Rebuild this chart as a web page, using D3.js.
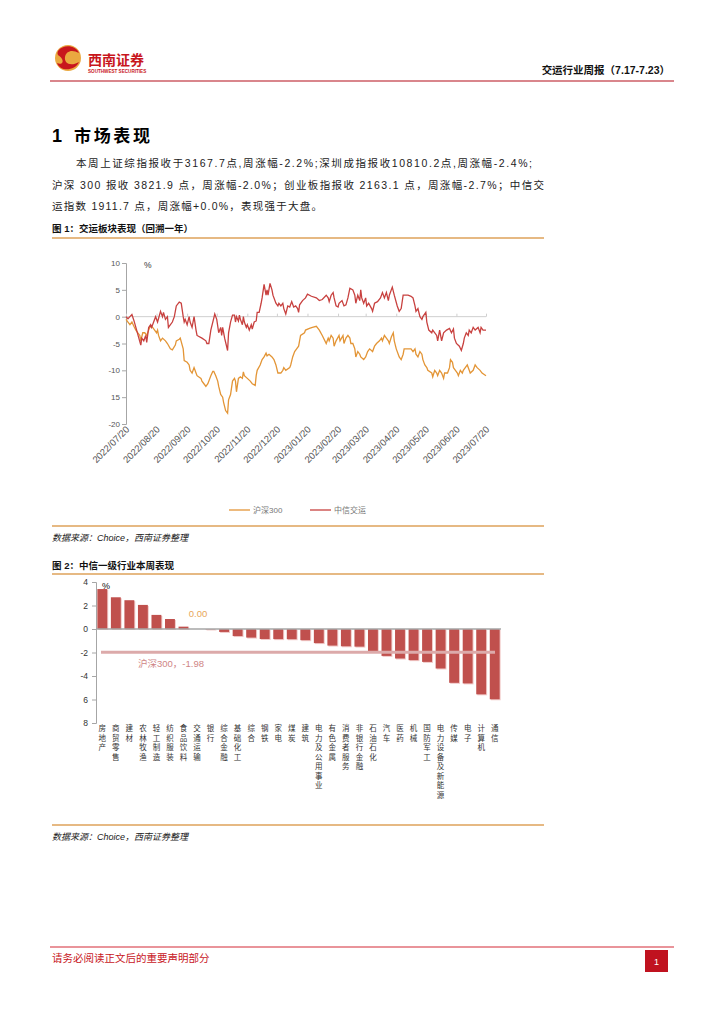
<!DOCTYPE html>
<html><head><meta charset="utf-8">
<script src="https://cdn.jsdelivr.net/npm/d3@7/dist/d3.min.js"></script>
<style>
body{margin:0;background:#fff}
svg{display:block}
text{font-family:"Liberation Sans","Noto Sans CJK SC",sans-serif}
</style></head><body>
<svg id="page" width="724" height="1024"></svg>
<script>
// ---- figure 1 data: [days after 2022/07/20, cumulative %] ----
var hs300 = [[0,-0.5],[2,-1],[4,-1.5],[6,-1],[8,-1.8],[10,-2.5],[12,-3],[14,-3.5],[15,-4.5],[17,-3],[19,-3],[21,-3.5],[24,-2],[26,-1.8],[27,-2],[29,-2.5],[31,-3],[32,-2.5],[33,-3.5],[35,-4.5],[37,-4],[40,-4.5],[42,-5],[45,-6],[47,-6.2],[50,-5.3],[51,-4.5],[54,-4.2],[55,-4],[58,-6],[59,-8.2],[62,-8.5],[64,-9],[65,-10],[67,-10.5],[69,-9.5],[71,-10.5],[72,-11],[76,-11.5],[77,-12],[79,-12.5],[81,-13],[83,-12.5],[86,-11],[88,-10.2],[89,-10.2],[91,-11],[93,-12],[94,-13],[96,-14.5],[98,-15],[99,-16],[101,-17.5],[103,-18],[104,-15.5],[106,-14.5],[108,-12],[110,-11.5],[111,-12],[112,-14],[114,-11.5],[116,-11.2],[118,-11.5],[119,-10.3],[120,-11],[123,-11.5],[126,-12],[128,-12.5],[131,-12.8],[132,-11],[133,-10],[136,-9],[138,-8],[140,-7.5],[142,-6.8],[143,-7.3],[145,-7],[148,-7.5],[150,-8],[152,-9],[154,-10.5],[157,-10.5],[159,-10],[160,-9.5],[162,-10],[166,-9.5],[167,-9],[169,-7.5],[171,-6.5],[173,-6],[175,-5.5],[177,-3.5],[181,-3],[182,-2.5],[186,-2.2],[189,-2],[193,-1.8],[196,-2.5],[199,-3.5],[203,-5],[205,-4],[206,-4.5],[208,-3.5],[210,-4],[211,-5.5],[213,-4.5],[216,-3.5],[217,-4.5],[220,-3.5],[221,-5],[223,-4],[225,-3.5],[227,-4],[228,-5],[230,-5],[232,-6],[233,-7.5],[235,-6.5],[237,-7],[238,-7.5],[241,-8],[243,-7.5],[245,-6.5],[247,-6],[250,-6.5],[252,-5.5],[254,-5],[257,-4.5],[259,-4],[260,-4.5],[262,-3.5],[264,-4],[266,-4.5],[267,-5],[269,-3.8],[271,-3],[272,-4.5],[274,-6],[276,-7],[277,-7.5],[279,-8],[281,-7],[282,-6],[286,-6],[289,-6],[291,-6.5],[293,-6],[294,-7],[296,-7.5],[298,-6.5],[300,-7],[301,-8],[303,-9],[305,-9.5],[306,-10],[310,-10.5],[311,-11.2],[313,-10],[315,-10.5],[316,-11],[318,-10],[320,-10.5],[322,-11.5],[323,-10.5],[326,-10.5],[328,-9.5],[329,-8],[331,-8.5],[332,-9.5],[334,-10],[336,-10.5],[337,-11],[339,-10],[341,-10.5],[342,-10],[344,-9.5],[346,-9],[348,-10],[349,-10.5],[352,-10],[354,-9],[356,-9.5],[359,-10],[361,-10.5],[365,-11]];
var jiaoyun = [[0,0],[2,-0.4],[4,0],[6,0.4],[8,-0.7],[10,-2],[15,-5.3],[16,-4],[18,-4.5],[20,-3.5],[21,-4.8],[23,-2],[25,-1.5],[26,-2],[30,0],[32,-1],[35,1],[37,0],[38,0.8],[40,-0.5],[42,0],[43,-2],[47,-1],[49,0],[51,2],[54,2.7],[56,2.5],[58,0],[59,-1],[60,-0.5],[62,-1.5],[64,0],[65,-1],[67,-2],[69,0],[71,-2.5],[72,-3.5],[77,-4],[81,-4.5],[82,-5],[84,-5],[86,-2.5],[88,-1],[90,0.5],[92,-0.5],[94,-3],[96,-2],[97,-3.5],[98,-2],[100,-4],[103,-6.3],[104,-3],[106,-1],[108,0.3],[110,0.3],[111,-1],[112,0],[114,-0.8],[115,0.3],[116,-0.5],[118,-1.5],[119,0],[120,-1],[122,-2],[123,-1.5],[125,-2.5],[127,-1.5],[128,-2.3],[130,-1],[132,-0.8],[133,0.8],[135,0.8],[137,2.5],[138,3.5],[140,6],[142,4],[143,5],[144,4],[146,6.2],[148,5],[149,4],[152,2.5],[154,2],[155,2.5],[157,2],[159,2.5],[160,1.5],[162,0.5],[164,2],[166,1.8],[168,2.8],[170,1.8],[172,2],[174,1.5],[175,0.8],[176,2.2],[179,3],[182,3.5],[184,4.2],[188,3.8],[193,3.5],[196,3],[199,3.2],[203,4],[205,3.5],[206,2.8],[208,4],[210,4.5],[211,3.5],[213,2],[215,1.8],[216,2.5],[219,3],[221,2],[223,2.2],[225,3.5],[227,5.3],[230,5],[232,4],[233,2.5],[235,4],[237,3],[238,5],[239,3.5],[241,2.5],[243,3.5],[244,2],[246,2.5],[249,1.5],[250,1],[252,2.5],[255,2.8],[258,3.5],[260,4.5],[262,3.5],[264,4.5],[266,3],[267,4],[270,5.5],[272,4],[275,2],[277,1],[279,1.5],[281,4],[286,4],[289,3.8],[291,3.5],[293,2],[294,1],[296,1.5],[298,0],[300,-0.5],[301,0],[304,0.8],[305,-1],[307,-2.5],[310,-3],[311,-2.5],[315,-3.5],[316,-4.5],[318,-2.5],[320,-4.5],[322,-3],[325,-2.5],[328,-2.2],[330,-3],[332,-2.3],[333,-4],[335,-5],[338,-5.5],[340,-6.3],[342,-5],[343,-4],[345,-3],[347,-3.5],[348,-2.5],[350,-3],[352,-2],[354,-2.5],[357,-2],[359,-3],[360,-2],[362,-2.5],[365,-2.5]];
var monthLabels = ["2022/07/20","2022/08/20","2022/09/20","2022/10/20","2022/11/20","2022/12/20","2023/01/20","2023/02/20","2023/03/20","2023/04/20","2023/05/20","2023/06/20","2023/07/20"];
var y1Ticks = [10,5,0,-5,-10,-15,-20];
var y1Labels = ["10","5","0","-5","-10","15","-20"];
var seriesNames = ["沪深300","中信交运"];

// ---- figure 2 data ----
var industries = ["房地产","商贸零售","建材","农林牧渔","轻工制造","纺织服装","食品饮料","交通运输","银行","综合金融","基础化工","综合","钢铁","家电","煤炭","建筑","电力及公用事业","有色金属","消费者服务","非银行金融","石油石化","汽车","医药","机械","国防军工","电力设备及新能源","传媒","电子","计算机","通信"];
var weekChange = [3.4,2.7,2.45,2.05,1.2,0.85,0.2,0.0,-0.04,-0.25,-0.6,-0.73,-0.85,-0.86,-0.87,-0.95,-1.2,-1.41,-1.47,-1.5,-1.92,-2.29,-2.51,-2.65,-2.8,-3.36,-4.58,-4.63,-5.56,-5.98];
var hs300Week = -1.98;
var y2Ticks = [4,2,0,-2,-4,-6,-8];
var y2Labels = ["4","2","0","-2","-4","6","8"];

var svg = d3.select("#page");
var orange = "#e39536", red = "#c8413f", barRed = "#c0504d", gold = "#dea25a";

// ---------- page header ----------
svg.append("circle").attr("cx",68).attr("cy",58).attr("r",13).attr("fill","#eaa940");
svg.append("path").attr("d","M58,51 C63,44 76,45 79,53 C72,49 66,51 65,57 C64,63 70,67 79,62 C75,71 60,72 57,63 C61,65 64,63 62,59 C60,55 56,56 58,51 Z").attr("fill","#c8161d");
svg.append("text").attr("x",88).attr("y",65).attr("font-size",14).attr("font-weight","bold").attr("fill","#c8161d").text("西南证券");
svg.append("text").attr("x",88).attr("y",72.5).attr("font-size",4.6).attr("font-weight","bold").attr("fill","#c8161d").text("SOUTHWEST SECURITIES");
svg.append("text").attr("x",670).attr("y",74).attr("text-anchor","end").attr("font-size",10.5).attr("font-weight","bold").attr("fill","#111").text("交运行业周报（7.17-7.23）");
svg.append("line").attr("x1",50).attr("x2",674).attr("y1",81).attr("y2",81).attr("stroke","#d9868c").attr("stroke-width",2);

// ---------- section heading + paragraph ----------
svg.append("text").attr("x",52).attr("y",142).attr("font-size",18).attr("font-weight","bold").attr("fill","#000").text("1");
svg.append("text").attr("x",74).attr("y",142).attr("font-size",17).attr("font-weight","bold").attr("fill","#000").attr("textLength",76).text("市场表现");
var para = [
  {x:76, y:167, w:456, t:"本周上证综指报收于3167.7点,周涨幅-2.2%;深圳成指报收10810.2点,周涨幅-2.4%;"},
  {x:52, y:189, w:492, t:"沪深 300 报收 3821.9 点，周涨幅-2.0%；创业板指报收 2163.1 点，周涨幅-2.7%；中信交"},
  {x:52, y:210, w:270, t:"运指数 1911.7 点，周涨幅+0.0%，表现强于大盘。"}
];
para.forEach(function(p){
  svg.append("text").attr("x",p.x).attr("y",p.y).attr("font-size",10.5).attr("fill","#222")
    .attr("textLength",p.w).attr("lengthAdjust","spacing").text(p.t);
});

// ---------- figure captions / rules ----------
function caption(y, txt){
  svg.append("text").attr("x",52).attr("y",y).attr("font-size",9.5).attr("font-weight","bold").attr("fill","#111").text(txt);
}
function rule(y){
  svg.append("line").attr("x1",52).attr("x2",544).attr("y1",y).attr("y2",y).attr("stroke",gold).attr("stroke-width",1.5);
}
function source(y){
  svg.append("text").attr("x",52).attr("y",y).attr("font-size",9).attr("font-style","italic").attr("fill","#222").text("数据来源：Choice，西南证券整理");
}
caption(232,"图 1：交运板块表现（回溯一年）");
rule(238); rule(526); source(541);
caption(569,"图 2：中信一级行业本周表现");
rule(574); rule(825); source(840);

// ---------- figure 1: line chart ----------
var start = new Date(2022,6,20);
function dayDate(d){ return new Date(2022,6,20+d); }
var monthDates = monthLabels.map(function(s){ var p=s.split("/"); return new Date(+p[0], +p[1]-1, +p[2]); });
var x1 = d3.scaleTime().domain([start, new Date(2023,6,20)]).range([126,486]);
var y1 = d3.scaleLinear().domain([-20,10]).range([424,263]);

var ax1 = svg.append("g").attr("transform","translate(126,0)")
  .call(d3.axisLeft(y1).tickValues(y1Ticks).tickSize(4).tickSizeOuter(4).tickFormat(function(d,i){ return y1Labels[i]; }));
ax1.selectAll("path,line").attr("stroke","#a6a6a6");
ax1.selectAll("text").attr("font-size",8).attr("fill","#555").attr("x",-6);

svg.append("line").attr("x1",126).attr("x2",486).attr("y1",y1(0)).attr("y2",y1(0)).attr("stroke","#cfcfcf");
var mt = svg.append("g").attr("transform","translate(0,"+y1(0)+")")
  .call(d3.axisTop(x1).tickValues(monthDates).tickSize(3).tickFormat(""));
mt.select(".domain").remove();
mt.selectAll("line").attr("stroke","#cfcfcf");

svg.append("g").selectAll("text").data(monthDates).join("text")
  .attr("transform",function(d){ return "translate("+(x1(d)+4)+",430) rotate(-45)"; })
  .attr("text-anchor","end").attr("font-size",9.5).attr("fill","#555")
  .text(function(d,i){ return monthLabels[i]; });

var line1 = d3.line().x(function(d){ return x1(dayDate(d[0])); }).y(function(d){ return y1(d[1]); });
svg.append("path").datum(hs300).attr("d",line1).attr("fill","none").attr("stroke",orange).attr("stroke-width",1.3);
svg.append("path").datum(jiaoyun).attr("d",line1).attr("fill","none").attr("stroke",red).attr("stroke-width",1.3);
svg.append("text").attr("x",144).attr("y",268).attr("font-size",8.5).attr("fill","#333").text("%");

// legend
var lg = [{x:229, c:orange},{x:310, c:red}];
lg.forEach(function(l,i){
  svg.append("line").attr("x1",l.x).attr("x2",l.x+21).attr("y1",510).attr("y2",510).attr("stroke",l.c).attr("stroke-width",1.3);
  svg.append("text").attr("x",l.x+24).attr("y",513).attr("font-size",8).attr("fill","#777").text(seriesNames[i]);
});

// ---------- figure 2: bar chart ----------
var x2 = d3.scaleBand().domain(industries).range([96,501]).paddingInner(0.27).paddingOuter(0.1);
var y2 = d3.scaleLinear().domain([-8,4]).range([723,582]);

var ax2 = svg.append("g").attr("transform","translate(96,0)")
  .call(d3.axisLeft(y2).tickValues(y2Ticks).tickSize(4).tickSizeOuter(4).tickFormat(function(d,i){ return y2Labels[i]; }));
ax2.selectAll("path,line").attr("stroke","#a6a6a6");
ax2.selectAll("text").attr("font-size",8.5).attr("fill","#333").attr("x",-8);

var bars = svg.append("g");
bars.selectAll("rect.sh").data(weekChange).join("rect").attr("class","sh")
  .attr("x",function(d,i){ return x2(industries[i])+1; })
  .attr("y",function(d){ return Math.min(y2(d),y2(0))+1; })
  .attr("width",x2.bandwidth())
  .attr("height",function(d){ return Math.abs(y2(d)-y2(0)); })
  .attr("fill","#f1c9c8");
bars.selectAll("rect.b").data(weekChange).join("rect").attr("class","b")
  .attr("x",function(d,i){ return x2(industries[i]); })
  .attr("y",function(d){ return Math.min(y2(d),y2(0)); })
  .attr("width",x2.bandwidth())
  .attr("height",function(d){ return Math.abs(y2(d)-y2(0)); })
  .attr("fill",barRed);

svg.append("line").attr("x1",96).attr("x2",501).attr("y1",y2(0)).attr("y2",y2(0)).attr("stroke","#a6a6a6").attr("stroke-width",1.5);
svg.append("line").attr("x1",101).attr("x2",495).attr("y1",y2(hs300Week)).attr("y2",y2(hs300Week)).attr("stroke","#dcaaaa").attr("stroke-width",3);
svg.append("text").attr("x",138).attr("y",667).attr("font-size",9.5).attr("fill","#cf8585").text("沪深300，" + hs300Week.toFixed(2));
var jy = industries.indexOf("交通运输");
svg.append("text").attr("x",x2(industries[jy])+x2.bandwidth()/2+1).attr("y",617).attr("text-anchor","middle").attr("font-size",9.5).attr("fill","#e8a65a").text(weekChange[jy].toFixed(2));
svg.append("text").attr("x",102).attr("y",589).attr("font-size",9).attr("fill","#111").text("%");

// vertical category labels
var cat = svg.append("g").selectAll("g").data(industries).join("g")
  .attr("transform",function(d){ return "translate("+(x2(d)+x2.bandwidth()/2)+",0)"; });
cat.selectAll("text").data(function(d){ return d.split(""); }).join("text")
  .attr("x",0).attr("y",function(c,i){ return 731+i*9.5; })
  .attr("text-anchor","middle").attr("font-size",7.5).attr("fill","#333")
  .text(function(c){ return c; });

// ---------- footer ----------
svg.append("line").attr("x1",50).attr("x2",674).attr("y1",947).attr("y2",947).attr("stroke","#d42a36").attr("stroke-width",1.2);
svg.append("text").attr("x",52).attr("y",962).attr("font-size",10.5).attr("fill","#c8161d").text("请务必阅读正文后的重要声明部分");
svg.append("rect").attr("x",645).attr("y",950).attr("width",23).attr("height",22).attr("fill","#c0121f");
svg.append("text").attr("x",656.5).attr("y",965).attr("text-anchor","middle").attr("font-size",9).attr("fill","#fff").text("1");
</script>
</body></html>
